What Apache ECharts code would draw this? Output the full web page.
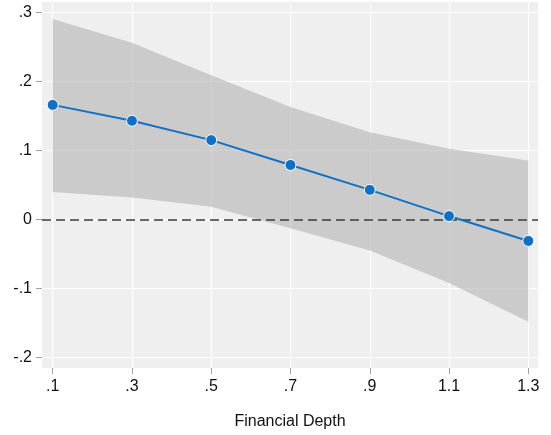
<!DOCTYPE html>
<html>
<head>
<meta charset="utf-8">
<script src="https://cdn.jsdelivr.net/npm/echarts@6/dist/echarts.min.js"></script>
<style>
html,body{margin:0;padding:0;background:#fff;}
#chart{width:551px;height:435px;}
</style>
</head>
<body>
<div id="chart"></div>
<script>
// Data
const xValues = [0.1, 0.3, 0.5, 0.7, 0.9, 1.1, 1.3];
const estimate = [0.166, 0.143, 0.115, 0.079, 0.043, 0.005, -0.031];
const upperCI = [0.2905, 0.256, 0.209, 0.163, 0.1265, 0.1024, 0.0856];
const lowerCI = [0.040, 0.032, 0.0186, -0.0127, -0.045, -0.092, -0.148];
const xTickValues = [0.1, 0.3, 0.5, 0.7, 0.9, 1.1, 1.3];
const xTickLabels = ['.1', '.3', '.5', '.7', '.9', '1.1', '1.3'];
const yTickValues = [-0.2, -0.1, 0, 0.1, 0.2, 0.3];
const yTickLabels = ['-.2', '-.1', '0', '.1', '.2', '.3'];
const xTitle = 'Financial Depth';

function labelFor(values, labels) {
  return function (v) {
    for (let i = 0; i < values.length; i++) {
      if (Math.abs(values[i] - v) < 1e-6) return labels[i];
    }
    return '';
  };
}

const font = 'Liberation Sans, Arial, sans-serif';
const chart = echarts.init(document.getElementById('chart'), null, {renderer: 'canvas'});

const bandData = xValues.map((x, i) => [x, lowerCI[i], upperCI[i]]);

chart.setOption({
  animation: false,
  backgroundColor: '#ffffff',
  grid: {
    left: 42, right: 13, top: 2, bottom: 64,
    show: true, backgroundColor: '#efefef', borderWidth: 0
  },
  xAxis: {
    type: 'value',
    min: 0.073, max: 1.3245,
    axisLine: {show: false, onZero: false},
    axisTick: {show: true, customValues: xTickValues, length: 6, lineStyle: {color: '#a0a0a0', width: 1}},
    axisLabel: {customValues: xTickValues, formatter: labelFor(xTickValues, xTickLabels),
      margin: 11, fontSize: 16, color: '#111', fontFamily: font},
    splitLine: {show: true, lineStyle: {color: '#ffffff', width: 1}},
    name: xTitle, nameLocation: 'middle', nameGap: 46,
    nameTextStyle: {fontSize: 16, color: '#111', fontFamily: font}
  },
  yAxis: {
    type: 'value',
    min: -0.215, max: 0.315,
    axisLine: {show: false, onZero: false},
    axisTick: {show: true, customValues: yTickValues, length: 6, lineStyle: {color: '#a0a0a0', width: 1}},
    axisLabel: {customValues: yTickValues, formatter: labelFor(yTickValues, yTickLabels),
      margin: 10, fontSize: 16, color: '#111', fontFamily: font},
    splitLine: {show: true, lineStyle: {color: '#ffffff', width: 1}}
  },
  series: [
    {
      type: 'custom',
      data: bandData,
      encode: {x: 0, y: [1, 2]},
      silent: true, z: 1,
      renderItem: function (params, api) {
        if (params.dataIndex !== 0) return null;
        const top = [], bottom = [];
        for (let i = 0; i < bandData.length; i++) {
          top.push(api.coord([bandData[i][0], bandData[i][2]]));
          bottom.push(api.coord([bandData[i][0], bandData[i][1]]));
        }
        return {
          type: 'polygon',
          shape: {points: top.concat(bottom.reverse())},
          style: {fill: 'rgba(175,175,175,0.56)', stroke: null}
        };
      }
    },
    {
      type: 'line',
      data: xValues.map((x, i) => [x, estimate[i]]),
      symbol: 'circle', symbolSize: 11,
      lineStyle: {color: '#1170c4', width: 2},
      itemStyle: {color: '#1170c4', borderColor: '#ffffff', borderWidth: 1},
      z: 5,
      markLine: {
        silent: true, symbol: 'none',
        label: {show: false},
        lineStyle: {color: '#3a3a3a', type: [9, 5], width: 1.6},
        data: [{yAxis: 0}],
        z: 3
      }
    }
  ]
});
</script>
</body>
</html>
